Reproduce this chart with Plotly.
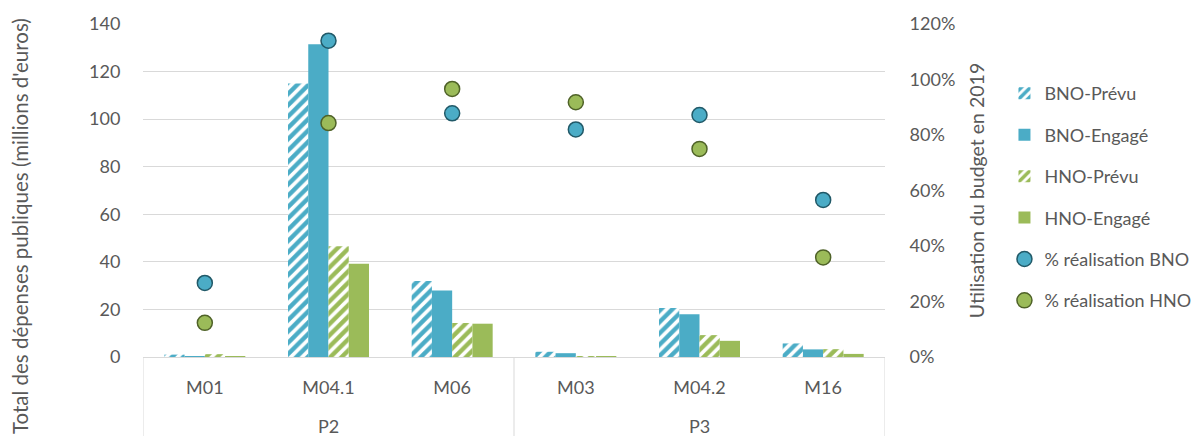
import plotly.graph_objects as go
from plotly.subplots import make_subplots

# Priorités et mesures
priorites = ["P2", "P2", "P2", "P3", "P3", "P3"]
mesures = ["M01", "M04.1", "M06", "M03", "M04.2", "M16"]

# Dépenses publiques (millions d'euros)
bno_prevu = [1.0, 115.0, 32.0, 2.2, 20.6, 5.7]
bno_engage = [0.3, 131.5, 28.0, 1.6, 18.0, 3.2]
hno_prevu = [1.2, 46.6, 14.3, 0.2, 9.2, 3.3]
hno_engage = [0.1, 39.2, 14.0, 0.1, 6.8, 1.3]

# Taux de réalisation du budget 2019
real_bno = [0.267, 1.14, 0.878, 0.82, 0.872, 0.566]
real_hno = [0.123, 0.843, 0.966, 0.918, 0.75, 0.359]

BLUE = "#4bacc6"
GREEN = "#9bbb59"
TXT = "#595959"
GRID = "#d9d9d9"
FONT = "Lato"

fig = make_subplots(specs=[[{"secondary_y": True}]])

def hatched(color):
    return dict(color=color, line=dict(width=0),
                pattern=dict(shape="/", fgcolor=color, bgcolor="white",
                             fgopacity=1, size=8, solidity=0.55))

fig.add_trace(go.Bar(x=mesures, y=bno_prevu, name="BNO-Prévu", marker=hatched(BLUE),
                     legendgroup="a"), secondary_y=False)
fig.add_trace(go.Bar(x=mesures, y=bno_engage, name="BNO-Engagé",
                     marker=dict(color=BLUE, line=dict(width=0)),
                     legendgroup="b"), secondary_y=False)
fig.add_trace(go.Bar(x=mesures, y=hno_prevu, name="HNO-Prévu", marker=hatched(GREEN),
                     legendgroup="c"), secondary_y=False)
fig.add_trace(go.Bar(x=mesures, y=hno_engage, name="HNO-Engagé",
                     marker=dict(color=GREEN, line=dict(width=0)),
                     legendgroup="d"), secondary_y=False)

fig.add_trace(go.Scatter(x=mesures, y=real_bno, mode="markers", name="% réalisation BNO",
                         marker=dict(size=15, color=BLUE,
                                     line=dict(color="#215968", width=1.5)),
                         legendgroup="e"), secondary_y=True)
fig.add_trace(go.Scatter(x=mesures, y=real_hno, mode="markers", name="% réalisation HNO",
                         marker=dict(size=15, color=GREEN,
                                     line=dict(color="#4f6228", width=1.5)),
                         legendgroup="f"), secondary_y=True)

# Group boxes below the category axis: priority labels and separators
groups = []
for i, p in enumerate(priorites):
    if not groups or groups[-1][0] != p:
        groups.append([p, i, i])
    else:
        groups[-1][2] = i

label_depth = -79 / 333  # bottom of the category box, in plot-height units
bounds = sorted({g[1] - 0.5 for g in groups} | {g[2] + 0.5 for g in groups})
for b in bounds:
    fig.add_shape(type="line", xref="x", yref="paper", x0=b, x1=b,
                  y0=0, y1=label_depth, line=dict(color=GRID, width=1))
for p, i0, i1 in groups:
    fig.add_annotation(x=(i0 + i1) / 2, y=0, xref="x", yref="paper",
                       yanchor="middle", yshift=-69, text=p, showarrow=False,
                       font=dict(family=FONT, size=18, color=TXT))

# Left axis title, centred on the full chart height
fig.add_annotation(x=-0.1658, y=0.393, xref="paper", yref="paper",
                   xanchor="center", yanchor="middle", textangle=-90,
                   text="Total des dépenses publiques (millions d'euros)",
                   showarrow=False, font=dict(family=FONT, size=20.5, color=TXT))

fig.update_layout(
    width=1202, height=436,
    margin=dict(l=143, r=317, t=24, b=79, autoexpand=False),
    paper_bgcolor="white", plot_bgcolor="white",
    font=dict(family=FONT, size=18, color=TXT),
    barmode="group", bargap=0.345, bargroupgap=0,
    legend=dict(x=1.161, xanchor="left", y=0.48, yanchor="middle",
                tracegroupgap=15, font=dict(size=18, color=TXT),
                itemwidth=30),
    showlegend=True,
)

fig.update_xaxes(
    type="category", range=[-0.5, len(mesures) - 0.5], domain=[0, 1],
    showline=True, linecolor=GRID, linewidth=1,
    ticks="outside", ticklen=14, tickcolor="rgba(0,0,0,0)",
    tickfont=dict(size=18, color=TXT), showgrid=False,
)

fig.update_yaxes(
    range=[0, 140], dtick=20, showgrid=True, gridcolor=GRID, gridwidth=1,
    zeroline=False, showline=False, ticks="outside", ticklen=18,
    tickcolor="rgba(0,0,0,0)", tickfont=dict(size=18, color=TXT),
    secondary_y=False,
)
fig.update_yaxes(
    range=[0, 1.2], dtick=0.2, tickformat=".0%", showgrid=False,
    zeroline=False, showline=False, ticks="outside", ticklen=20,
    tickcolor="rgba(0,0,0,0)", tickfont=dict(size=18, color=TXT),
    title=dict(text="Utilisation du budget en 2019",
               font=dict(size=19.5, color=TXT), standoff=16),
    secondary_y=True,
)

fig.write_html("out.html")
